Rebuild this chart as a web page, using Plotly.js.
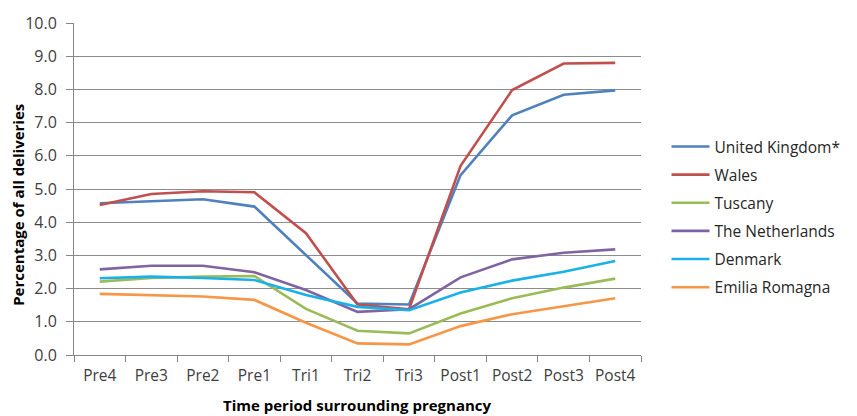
<!DOCTYPE html>
<html><head><meta charset="utf-8">
<script src="https://cdn.plot.ly/plotly-3.0.1.min.js"></script>
<style>html,body{margin:0;padding:0;background:#fff}#chart{width:857px;height:416px}</style>
</head><body><div id="chart"></div>
<script>
const categories = ["Pre4","Pre3","Pre2","Pre1","Tri1","Tri2","Tri3","Post1","Post2","Post3","Post4"];
const seriesNames = ["United Kingdom*","Wales","Tuscany","The Netherlands","Denmark","Emilia Romagna"];
const ukValues          = [4.57,4.63,4.69,4.47,3.00,1.55,1.52,5.42,7.22,7.84,7.97];
const walesValues       = [4.52,4.85,4.93,4.90,3.67,1.52,1.38,5.70,7.98,8.78,8.80];
const tuscanyValues     = [2.21,2.32,2.36,2.38,1.39,0.73,0.65,1.25,1.71,2.03,2.30];
const netherlandsValues = [2.58,2.69,2.69,2.49,1.96,1.30,1.38,2.34,2.88,3.08,3.18];
const denmarkValues     = [2.31,2.36,2.32,2.26,1.81,1.45,1.35,1.88,2.24,2.51,2.83];
const emiliaValues      = [1.84,1.81,1.76,1.66,0.97,0.35,0.32,0.87,1.23,1.47,1.71];
const yTickValues = [0,1,2,3,4,5,6,7,8,9,10];
const xTitle = "Time period surrounding pregnancy";
const yTitle = "Percentage of all deliveries";

const allValues = [ukValues, walesValues, tuscanyValues, netherlandsValues, denmarkValues, emiliaValues];
const colors = ["#4F81BD","#C0504D","#9BBB59","#8064A2","#1AB0E8","#F79646"];

const traces = allValues.map((vals, i) => ({
  type: "scatter", mode: "lines", x: categories, y: vals, name: seriesNames[i],
  legendgroup: "g" + i,
  line: {color: colors[i], width: 2.6}
}));

const layout = {
  width: 857, height: 416,
  margin: {l: 74, r: 208, t: 23, b: 61},
  paper_bgcolor: "#fff", plot_bgcolor: "#fff",
  font: {family: "Open Sans, DejaVu Sans, sans-serif", color: "#404040", size: 16},
  showlegend: true,
  legend: {
    x: 1.045, xanchor: "left", y: 0.416, yanchor: "middle",
    font: {size: 15.5, color: "#262626"}, traceorder: "grouped", tracegroupgap: 5,
    itemwidth: 38, bgcolor: "rgba(0,0,0,0)", borderwidth: 0
  },
  xaxis: {
    type: "category", range: [-0.5, 10.5], tickson: "boundaries",
    ticks: "outside", ticklen: 6, tickcolor: "#868686", tickangle: 0,
    showline: true, linecolor: "#868686", linewidth: 1,
    showgrid: false, zeroline: false, ticklabelstandoff: 6,
    tickfont: {size: 15.5, color: "#404040"}
  },
  yaxis: {
    range: [0, 10], tickvals: yTickValues, ticktext: yTickValues.map(v => v.toFixed(1)),
    ticks: "outside", ticklen: 7, tickcolor: "#868686",
    showline: true, linecolor: "#868686", linewidth: 1,
    gridcolor: "#8c8c8c", gridwidth: 1, zeroline: false, ticklabelstandoff: 6,
    tickfont: {size: 16, color: "#404040"}
  },
  annotations: [
    {text: "<b>" + xTitle + "</b>", xref: "paper", yref: "paper", x: 0.5, y: -0.15,
     xanchor: "center", yanchor: "middle", showarrow: false, font: {size: 15, color: "#000"}},
    {text: "<b>" + yTitle + "</b>", xref: "paper", yref: "paper", x: -0.099, y: 0.452,
     xanchor: "center", yanchor: "middle", textangle: -90, showarrow: false, font: {size: 15, color: "#000"}}
  ]
};

Plotly.newPlot("chart", traces, layout, {displayModeBar: false, staticPlot: true});
</script>
</body></html>
